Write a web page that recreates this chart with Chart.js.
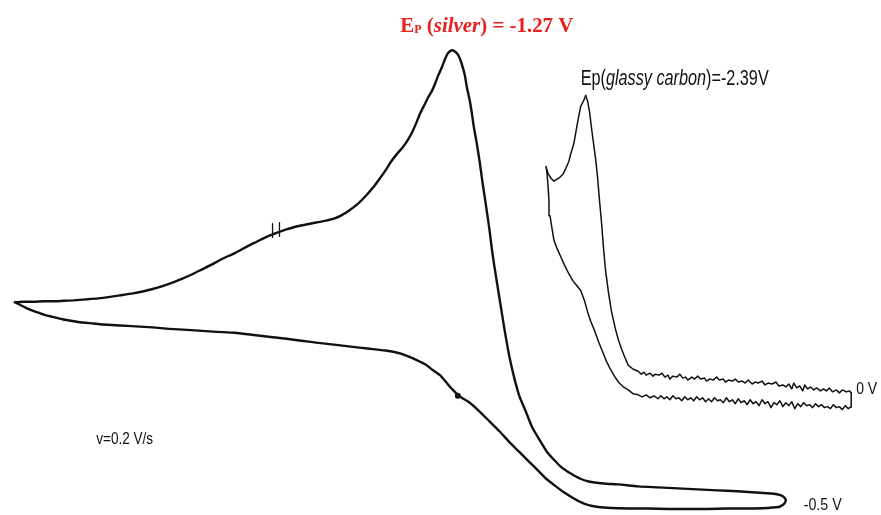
<!DOCTYPE html>
<html>
<head>
<meta charset="utf-8">
<script src="https://cdn.jsdelivr.net/npm/chart.js@4/dist/chart.umd.min.js"></script>
<style>
  html, body { margin: 0; padding: 0; background: #fff; }
  #wrap { width: 881px; height: 515px; position: relative; }
</style>
</head>
<body>
<div id="wrap"><canvas id="cv"></canvas></div>
<script>
/* Cyclic voltammograms, in picture units (x right, y down). */

// silver electrode: forward sweep (upper trace, to the peak and down to the turn)
var silverForward = [
  [11,303],[20,302.5],[30,302.5],[40,302],[50,302],[60,301.5],[70,301],[83,300],[95,299],[107,297.5],
  [117,296],[130,294],[140,292],[150,289.5],[160,286.5],[170,283],[180,279],[190,274.5],[200,269.5],
  [210,264.5],[220,259],[233,253],[245,246.5],[255,241.5],[265,236.5],[275,232.5],[285,229],[295,226],
  [305,224],[315,222],[325,220],[333,218],[340,215],[348,210],[357,203],[365,195],[372,187],
  [378,179],[385,169],[390,161],[396,153],[402,146],[407,139],[412,130],[416,121],[420,111],
  [425,101],[428,95],[432,88],[435,81],[438,73],[442,64],[445,56],[448,50],[452,47],[456,49],
  [459,53],[462,61],[465,72],[467,84],[470,98],[472,110],[474,124],[477,141],[480,160],
  [483,182],[486,202],[490,230],[493,254],[497,280],[501,305],[505,330],[510,358],[515,380],
  [520,398],[527,415],[533,430],[540,442],[548,455],[556,464],[563,471],[572,477],[581,482],
  [590,485],[605,487],[620,488],[640,490],[660,491],[680,492],[700,493],[720,494],[740,495],
  [755,496],[770,497],[780,498],[786,500],[789,504],[787,508],[782,511]
];
// silver electrode: reverse sweep (lower trace, back to the start)
var silverReverse = [
  [782,511],[770,512],[750,512.5],[730,512.5],[710,513],[690,513],[670,513],[650,512.5],[630,512.5],
  [613,512],[600,511],[590,509],[582,506],[573,501],[565,496],[557,490],[548,483],[540,475],
  [530,465],[520,455],[510,445],[500,434],[490,424],[480,414],[470,405],[462,400],[458,397],
  [452,391],[446,384],[440,377],[433,372],[425,366],[417,362],[408,358],[400,355],[385,352],
  [367,350],[350,348],[333,346],[315,344],[300,342],[285,340],[267,338],[250,336],[233,334],
  [215,333],[200,332],[185,331],[167,330],[150,328.5],[133,327.5],[117,326.5],[100,325.5],[90,324.5],
  [75,323],[60,320.5],[50,318],[40,315.5],[33,313],[25,310],[20,307.5],[15,305],[11,303]
];
// glassy carbon electrode: lower tail, left branch, up to the peak
var glassyCathodic = [
  [855,409],[852,411],[849,408],[846,412],[843,409],[840,410],[837,407],[834,411],[831,409],
  [828,410],[825,407],[822,409],[819,406],[816,410],[813,407],[810,408],[807,405],[804,409],
  [801,406],[798,411],[795,404],[792,408],[789,405],[786,409],[783,403],[780,407],[777,405],
  [774,410],[771,404],[768,406],[765,402],[762,408],[759,404],[756,406],[753,402],[750,407],
  [747,403],[744,405],[741,401],[738,406],[735,402],[732,404],[729,400],[726,405],[723,402],
  [720,403],[717,400],[714,404],[711,401],[708,404],[705,400],[702,402],[699,399],[696,403],
  [693,400],[690,402],[687,399],[684,403],[681,400],[678,401],[675,398],[672,402],[669,399],
  [666,401],[663,398],[660,401],[656,398],[652,400],[648,397],[644,399],[640,397],[635,396],
  [630,392],[625,389],[620,384],[616,378],[612,371],[608,363],[604,353],[600,343],[596,332],
  [592,322],[589,313],[586,302],[582,291],[578,286],[574,281],[570,274],[566,266],[562,257],
  [558,248],[555,240],[553,228],[551,215],[550,200],[549,185],[548,172],[547,165],[549,172],
  [552,177],[555,180],[558,178],[561,176],[564,173],[567,167],[570,160],[572,152],[575,142],
  [578,125],[580,114],[582,104],[585,98],[587,93]
];
// glassy carbon electrode: from the peak down to the upper tail and back to the start
var glassyAnodic = [
  [587,93],[589,99],[591,110],[593,127],[595,142],[597,157],[599,176],[601,200],[603,222],
  [605,248],[607,270],[610,293],[613,312],[617,330],[620,341],[623,350],[627,360],[630,367],
  [635,371],[640,373],[643,376],[646,374],[648,377],[652,375],[655,378],[657,376],[661,377],
  [664,375],[667,379],[670,377],[672,381],[675,378],[679,379],[682,376],[685,380],[688,379],
  [690,382],[694,379],[697,381],[700,378],[703,381],[707,380],[709,383],[712,381],[716,382],
  [719,379],[722,382],[726,381],[728,384],[731,382],[735,383],[738,381],[741,384],[745,383],
  [748,385],[751,382],[755,386],[758,384],[761,385],[765,383],[768,387],[771,385],[775,386],
  [779,384],[782,388],[786,387],[789,389],[792,386],[795,391],[797,385],[800,390],[803,388],
  [806,393],[808,387],[811,391],[814,389],[817,392],[820,390],[824,393],[827,391],[830,393],
  [833,390],[836,394],[840,392],[843,395],[846,392],[850,394],[853,393],[855,395],[855,409]
];
// pen marks on the silver trace
var tickA = [[271,223],[271,237]];
var tickB = [[278,222],[278,236]];
var dotMark = [[458,398]];

var labels = {
  silver: ["E", "P", " (", "silver", ") = -1.27 V"],
  glassy: ["Ep(", "glassy carbon", ")=-2.39V"],
  rate: "v=0.2 V/s",
  start: "0 V",
  end: "-0.5 V"
};

function toXY(arr) {
  return arr.map(function (p) { return { x: p[0], y: p[1] }; });
}

function trace(data, width, tension) {
  return {
    data: toXY(data),
    showLine: true,
    borderColor: "#111",
    borderWidth: width,
    pointRadius: 0,
    tension: tension || 0,
    borderJoinStyle: "round",
    borderCapStyle: "round",
    clip: false
  };
}

// draws a list of font runs starting at (x, y), squeezed to a given width
function drawRuns(ctx, runs, x, y, width, color) {
  var total = 0;
  runs.forEach(function (r) { ctx.font = r.f; total += ctx.measureText(r.t).width; });
  var s = width / total;
  ctx.save();
  ctx.translate(x, y);
  ctx.scale(s, 1);
  ctx.fillStyle = color;
  ctx.textBaseline = "alphabetic";
  var cx = 0;
  runs.forEach(function (r) {
    ctx.font = r.f;
    ctx.fillText(r.t, cx, r.dy || 0);
    cx += ctx.measureText(r.t).width;
  });
  ctx.restore();
}

var annotations = {
  id: "annotations",
  afterDatasetsDraw: function (chart) {
    var ctx = chart.ctx;
    var sx = chart.scales.x, sy = chart.scales.y;
    var px = function (v) { return sx.getPixelForValue(v); };
    var py = function (v) { return sy.getPixelForValue(v); };
    var serif = "'Liberation Serif', 'Times New Roman', serif";
    var sans = "'Liberation Sans', Arial, sans-serif";
    var t = labels.silver;
    drawRuns(ctx, [
      { t: t[0], f: "bold 21px " + serif },
      { t: t[1], f: "bold 12px " + serif, dy: 1 },
      { t: t[2], f: "bold 21px " + serif },
      { t: t[3], f: "italic bold 21px " + serif },
      { t: t[4], f: "bold 21px " + serif }
    ], px(400), py(28), 173, "#e8201f");
    var g = labels.glassy;
    drawRuns(ctx, [
      { t: g[0], f: "22px " + sans },
      { t: g[1], f: "italic 22px " + sans },
      { t: g[2], f: "22px " + sans }
    ], px(582), py(82), 188, "#111");
    drawRuns(ctx, [{ t: labels.rate, f: "17px " + sans }], px(93), py(447), 57, "#111");
    drawRuns(ctx, [{ t: labels.start, f: "17px " + sans }], px(860), py(396), 21, "#111");
    drawRuns(ctx, [{ t: labels.end, f: "17px " + sans }], px(807), py(514), 38, "#111");
  }
};

var dot = {
  data: toXY(dotMark),
  pointRadius: 3,
  pointBackgroundColor: "#111",
  pointBorderWidth: 0,
  showLine: false
};

new Chart(document.getElementById("cv"), {
  type: "scatter",
  data: {
    datasets: [
      trace(silverForward, 2.4, 0.2),
      trace(silverReverse, 2.4, 0.2),
      trace(glassyCathodic, 1.5),
      trace(glassyAnodic, 1.5),
      trace(tickA, 1.3),
      trace(tickB, 1.3),
      dot
    ]
  },
  options: {
    responsive: true,
    maintainAspectRatio: false,
    animation: false,
    layout: { padding: 0 },
    scales: {
      x: { type: "linear", min: 0, max: 881, display: false },
      y: { type: "linear", min: 0, max: 515, reverse: true, display: false }
    },
    plugins: {
      legend: { display: false },
      tooltip: { enabled: false }
    }
  },
  plugins: [annotations]
});
</script>
</body>
</html>
